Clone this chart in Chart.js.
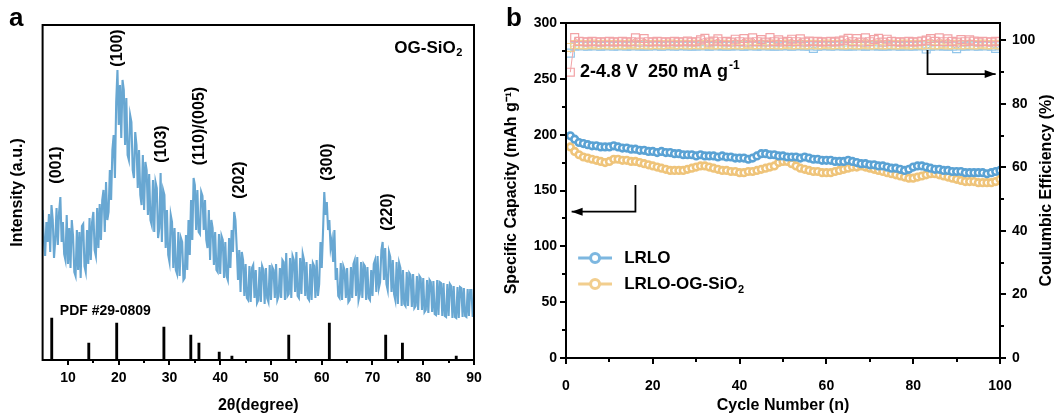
<!DOCTYPE html>
<html><head><meta charset="utf-8">
<script src="https://cdn.jsdelivr.net/npm/chart.js@4.4.1/dist/chart.umd.min.js"></script>
<style>
html,body{margin:0;padding:0;background:#fff;}
#wrap{position:relative;width:1054px;height:417px;overflow:hidden;}
#ca{position:absolute;left:0;top:0;}
#cb{position:absolute;left:500px;top:0;}
</style></head><body>
<div id="wrap">
<canvas id="ca" width="500" height="417"></canvas>
<canvas id="cb" width="554" height="417"></canvas>
</div>
<script>
// ---------------- Panel a : XRD ----------------
const xrdStart = 5, xrdStep = 0.25;
const xrdIntensity = [
150,120,104,138, 118,146,108,155, 140,102,120,152, 115,148,163,118, 138,106,100,145,
96,132,92,140, 124,88,84,130, 90,128,82,134, 136,94,88,130, 96,142,100,138,
148,110,104,152, 112,156,120,160, 170,128,178,140, 148,190,160,210, 225,182,258,290,
235,275,222,280, 270,215,262,205, 200,245,238,190, 182,228,215,172, 210,165,155,205,
150,198,190,145, 186,140,135,180, 128,178,172,122, 132,187,118,170, 165,112,150,105,
98,145,138,92, 132,90,86,128, 84,122,118,80, 82,125,90,140, 105,160,120,182,
175,130,170,128, 126,168,164,130, 160,120,112,150, 100,140,132,95, 128,90,88,126,
86,124,120,82, 118,84,80,122, 92,130,108,148, 140,112,80,110, 68,108,100,64,
96,62,60,94, 58,92,95,62, 90,57,60,93, 58,94,90,56, 92,62,58,95,
60,93,90,62, 96,60,64,92, 62,100,98,60, 107,64,66,102, 62,104,100,68,
108,64,62,102, 66,106,100,64, 98,62,60,96, 60,97,94,62, 100,64,76,118,
92,128,168,145, 158,130,140,112, 120,98,130,80, 92,64,62,97, 60,94,90,62,
92,58,60,93, 62,96,100,64, 103,60,66,98, 62,96,94,60, 93,62,60,90,
64,96,100,68, 104,72,78,110, 118,80,112,76, 70,108,103,68, 100,66,60,98,
56,97,92,54, 90,56,54,88, 54,87,85,53, 86,52,54,84, 50,84,82,50,
82,48,50,80, 47,80,78,48, 79,46,45,80, 45,78,77,44, 77,44,43,76,
44,76,74,42, 74,43,42,73, 42,73,72,43, 72,44,43,71, 44,70,70,43,
58
];
const pdfPositions = [6.8, 14.1, 19.6, 28.9, 34.2, 35.8, 39.8, 42.3, 53.5, 61.5, 72.6, 75.9, 86.5];
const pdfHeights   = [42, 17, 37, 33, 25, 17, 8, 4, 25, 37, 25, 17, 4];
const peakLabels = ['(001)', '(100)', '(103)', '(110)/(005)', '(202)', '(300)', '(220)'];
const peakLabelX = [7.8, 19.7, 28.5, 36.0, 43.9, 61.2, 72.9];
const peakLabelY = [195, 312, 216, 234, 180, 198, 148];
const xrdTicks = [10, 20, 30, 40, 50, 60, 70, 80, 90];
const xrdMinorTicks = [15, 25, 35, 45, 55, 65, 75, 85];
const xrdSampleName = 'OG-SiO2';
const pdfCardName = 'PDF #29-0809';

// ---------------- Panel b : cycling ----------------
const cycles = [];
for (let i = 1; i <= 100; i++) cycles.push(i);
const seriesNames = ['LRLO', 'LRLO-OG-SiO2'];
const capLRLO = [
199,196,193,192,191,190,190,189,189,189,
190,189,188,188,187,187,186,186,185,185,
184,185,184,184,183,183,182,182,182,181,
182,181,181,181,180,181,180,180,179,179,
179,178,179,181,183,183,182,182,181,181,
180,180,180,179,180,179,178,178,177,177,
177,176,176,176,177,176,175,174,174,173,
173,172,172,171,170,170,169,168,169,171,
172,172,171,170,169,169,168,168,167,167,
167,166,166,166,166,166,165,166,167,168
];
const capOG = [
189,185,182,180,179,178,177,176,175,176,
178,178,177,177,176,176,175,174,173,172,
171,170,169,168,168,168,168,169,170,171,
172,172,171,170,169,168,168,167,167,166,
166,167,167,168,169,170,171,172,175,176,
176,174,172,170,169,168,167,167,166,166,
166,167,168,169,170,171,171,172,171,170,
169,168,167,166,165,164,163,162,161,161,
162,163,164,165,165,164,163,162,161,160,
159,158,158,158,157,157,157,157,158,160
];
const cePink = [
90.0,100.9,99.7,99.6,99.5,99.7,99.6,99.5,99.6,99.7,
99.5,99.6,99.7,99.5,99.6,100.8,99.5,100.6,99.6,99.5,
99.7,99.6,99.5,99.6,99.7,99.5,99.6,99.8,99.5,99.6,
100.2,100.7,99.5,99.8,100.5,99.6,99.7,99.5,100.4,99.6,
100.6,99.5,100.8,99.6,100.3,99.5,100.9,99.6,100.2,99.5,
99.7,100.4,99.6,100.5,99.5,99.8,99.6,99.7,99.5,99.6,
99.7,99.5,99.8,100.1,100.7,99.6,100.6,99.5,100.8,99.6,
100.3,100.7,99.5,100.4,99.7,99.6,99.5,99.6,99.7,99.5,
99.6,99.8,100.1,100.6,99.7,100.8,99.6,100.5,99.7,99.5,
100.3,99.6,100.2,99.8,99.5,99.7,99.6,99.5,99.7,99.6
];
const ceBlue = [
96.0,98.2,98.4,98.3,98.2,98.4,98.3,98.2,98.3,98.4,
98.2,98.3,98.4,98.2,98.3,98.4,98.2,98.3,98.2,98.4,
98.3,98.2,98.3,98.4,98.2,98.3,98.4,98.2,98.3,98.2,
98.4,98.3,98.2,98.3,98.4,98.2,98.3,98.2,98.4,98.3,
98.2,98.3,98.4,98.2,98.3,98.4,98.2,98.3,98.2,98.4,
98.3,98.2,98.3,98.4,98.2,98.3,97.5,98.2,98.3,98.4,
98.2,98.3,98.4,98.2,98.3,98.2,98.4,98.3,98.2,98.3,
98.4,98.2,98.3,98.2,98.4,98.3,98.2,98.3,98.3,98.2,
98.4,98.3,97.3,98.2,98.3,98.4,98.2,98.3,98.2,97.4,
98.3,98.2,98.4,98.3,98.2,98.4,98.3,98.2,97.5,98.3
];
const ceYellow = [
97.8,98.7,98.8,98.6,98.7,98.9,98.6,98.7,98.8,98.6,
98.7,98.8,98.6,98.7,98.9,98.6,98.7,98.8,98.6,98.7,
98.8,98.6,98.7,98.9,98.6,98.7,98.8,98.6,98.7,98.8,
98.6,98.7,98.9,98.6,98.7,98.8,98.6,98.7,98.8,98.6,
98.7,98.9,98.6,98.7,98.8,98.6,98.7,98.8,98.6,98.7,
98.9,98.6,98.7,98.8,98.6,98.7,98.8,98.6,98.7,98.9,
98.6,98.7,98.8,98.6,98.7,98.8,98.6,98.7,98.9,98.6,
98.7,98.8,98.6,98.7,98.8,98.6,98.7,98.9,98.6,98.7,
98.8,98.6,98.7,98.8,98.6,98.7,98.9,98.6,98.7,98.8,
98.6,98.7,98.8,98.6,98.7,98.9,98.6,98.7,98.8,98.6
];
const cycleTicks = [0, 20, 40, 60, 80, 100];
const cycleMinorTicks = [10, 30, 50, 70, 90];
const capTicks = [0, 50, 100, 150, 200, 250, 300];
const capMinorTicks = [25, 75, 125, 175, 225, 275];
const ceTicks = [0, 20, 40, 60, 80, 100];
const ceMinorTicks = [10, 30, 50, 70, 90];
const conditionText = '2-4.8 V  250 mA g';
const conditionSup = '-1';

// ---------------- styles ----------------
const FONT = '"Liberation Sans", Arial, sans-serif';
const XRD_COLOR = '#68A7D2';
const BLUE = '#5AA2D4';
const YELLOW = '#EFC47A';
Chart.defaults.font.family = FONT;
Chart.defaults.font.weight = 'bold';
Chart.defaults.color = '#000';

function drawChem(ctx, text, x, y, size, align) {
  let main = text, sub = '';
  if (/O2$/.test(text)) { main = text.slice(0, -1); sub = '2'; }
  ctx.font = `bold ${size}px ${FONT}`;
  const w1 = ctx.measureText(main).width;
  const ss = Math.round(size * 0.65);
  ctx.font = `bold ${ss}px ${FONT}`;
  const w2 = sub ? ctx.measureText(sub).width : 0;
  const x0 = align === 'right' ? x - w1 - w2 : x;
  ctx.textAlign = 'left'; ctx.textBaseline = 'middle';
  ctx.font = `bold ${size}px ${FONT}`;
  ctx.fillText(main, x0, y);
  if (sub) { ctx.font = `bold ${ss}px ${FONT}`; ctx.fillText(sub, x0 + w1 + 0.5, y + size * 0.32); }
}

const framePlugin = {
  id: 'frame',
  afterDatasetsDraw(chart, args, opts) {
    const ctx = chart.ctx, a = chart.chartArea;
    ctx.save();
    ctx.strokeStyle = '#000'; ctx.lineWidth = 2;
    ctx.strokeRect(a.left, a.top, a.right - a.left, a.bottom - a.top);
    (opts.ticks || []).forEach(t => {
      const s = chart.scales[t.axis];
      t.values.forEach(v => {
        const p = Math.round(s.getPixelForValue(v));
        ctx.beginPath();
        if (s.isHorizontal()) { ctx.moveTo(p, a.bottom); ctx.lineTo(p, a.bottom + t.len); }
        else if (s.position === 'left') { ctx.moveTo(a.left, p); ctx.lineTo(a.left - t.len, p); }
        else { ctx.moveTo(a.right, p); ctx.lineTo(a.right + t.len, p); }
        ctx.stroke();
      });
    });
    ctx.restore();
  }
};

const xrdTextPlugin = {
  id: 'xrdText',
  afterDraw(chart) {
    const {ctx} = chart; const x = chart.scales.x, y = chart.scales.y;
    ctx.save(); ctx.fillStyle = '#000';
    ctx.font = `bold 16px ${FONT}`; ctx.textAlign = 'center'; ctx.textBaseline = 'middle';
    peakLabels.forEach((t, i) => {
      ctx.save();
      ctx.translate(x.getPixelForValue(peakLabelX[i]), y.getPixelForValue(peakLabelY[i]));
      ctx.rotate(-Math.PI / 2);
      ctx.fillText(t, 0, 0);
      ctx.restore();
    });
    ctx.font = `bold 14px ${FONT}`; ctx.textAlign = 'left';
    ctx.fillText(pdfCardName, x.getPixelForValue(8.4), y.getPixelForValue(49));
    drawChem(ctx, xrdSampleName, x.getPixelForValue(87.6), y.getPixelForValue(312), 17, 'right');
    ctx.font = `bold 26px ${FONT}`; ctx.textAlign = 'left'; ctx.textBaseline = 'middle';
    ctx.fillText('a', 9, 19);
    ctx.restore();
  }
};

new Chart(document.getElementById('ca'), {
  type: 'line',
  data: { datasets: [
    { type: 'line', label: xrdSampleName, data: xrdIntensity.map((v, i) => ({x: xrdStart + i * xrdStep, y: v})),
      borderColor: XRD_COLOR, borderWidth: 2.1, pointRadius: 0, tension: 0, fill: false },
    { type: 'bar', label: pdfCardName, data: pdfPositions.map((p, i) => ({x: p, y: pdfHeights[i]})),
      backgroundColor: '#000', barThickness: 2.2, borderWidth: 0 }
  ]},
  options: {
    responsive: false, animation: false, devicePixelRatio: 1,
    layout: {padding: {top: 25, right: 26, left: 0, bottom: 0}},
    plugins: {legend: {display: false}, tooltip: {enabled: false},
      frame: {ticks: [{axis: 'x', values: xrdTicks, len: 5}, {axis: 'x', values: xrdMinorTicks, len: 3}]}},
    scales: {
      x: {type: 'linear', min: 5, max: 90, offset: false,
        grid: {display: false, drawTicks: false}, border: {display: false},
        afterBuildTicks: s => { s.ticks = xrdTicks.map(v => ({value: v})); },
        afterFit: s => { s.height = 57; },
        ticks: {font: {size: 14, weight: 'bold'}, color: '#000', padding: 10, maxRotation: 0, autoSkip: false},
        title: {display: true, text: '2θ(degree)', font: {size: 16, weight: 'bold'}, color: '#000', padding: {top: 0, bottom: 2}}},
      y: {min: 0, max: 335, grid: {display: false, drawTicks: false}, border: {display: false}, ticks: {display: false},
        afterFit: s => { s.width = 42.6; },
        title: {display: true, text: 'Intensity (a.u.)', font: {size: 16, weight: 'bold'}, color: '#000', padding: {top: 8, bottom: 0}}}
    }
  },
  plugins: [framePlugin, xrdTextPlugin]
});

// ---------------- Panel b chart ----------------
function arrow(ctx, pts) {
  ctx.beginPath(); ctx.moveTo(pts[0][0], pts[0][1]);
  for (let i = 1; i < pts.length; i++) ctx.lineTo(pts[i][0], pts[i][1]);
  ctx.stroke();
  const [x1, y1] = pts[pts.length - 2], [x2, y2] = pts[pts.length - 1];
  const ang = Math.atan2(y2 - y1, x2 - x1), L = 11, W = 4;
  ctx.beginPath();
  ctx.moveTo(x2, y2);
  ctx.lineTo(x2 - L * Math.cos(ang) + W * Math.sin(ang), y2 - L * Math.sin(ang) - W * Math.cos(ang));
  ctx.lineTo(x2 - L * Math.cos(ang) - W * Math.sin(ang), y2 - L * Math.sin(ang) + W * Math.cos(ang));
  ctx.closePath(); ctx.fill();
}

const cycTextPlugin = {
  id: 'cycText',
  afterDraw(chart) {
    const {ctx} = chart; const x = chart.scales.x, y = chart.scales.y, y2 = chart.scales.y2;
    ctx.save(); ctx.fillStyle = '#000'; ctx.strokeStyle = '#000'; ctx.lineWidth = 1.8;
    arrow(ctx, [[x.getPixelForValue(16), y.getPixelForValue(155)], [x.getPixelForValue(16), y.getPixelForValue(131)], [x.getPixelForValue(1.3), y.getPixelForValue(131)]]);
    arrow(ctx, [[x.getPixelForValue(83.3), y2.getPixelForValue(97)], [x.getPixelForValue(83.3), y2.getPixelForValue(89.4)], [x.getPixelForValue(99), y2.getPixelForValue(89.4)]]);
    const tx = x.getPixelForValue(3.2), ty = y2.getPixelForValue(90);
    ctx.font = `bold 18px ${FONT}`; ctx.textAlign = 'left'; ctx.textBaseline = 'middle';
    ctx.fillText(conditionText, tx, ty);
    const w = ctx.measureText(conditionText).width;
    ctx.font = `bold 12px ${FONT}`;
    ctx.fillText(conditionSup, tx + w + 1, ty - 7);
    const legY = [y.getPixelForValue(89.5), y.getPixelForValue(66.2)];
    const cols = ['#7DB7E0', '#F2CE8E'];
    const lx0 = x.getPixelForValue(2.8), lx1 = x.getPixelForValue(10.6), lc = x.getPixelForValue(6.7), ltx = x.getPixelForValue(13.4);
    seriesNames.forEach((n, i) => {
      ctx.strokeStyle = cols[i]; ctx.lineWidth = 3;
      ctx.beginPath(); ctx.moveTo(lx0, legY[i]); ctx.lineTo(lx1, legY[i]); ctx.stroke();
      ctx.fillStyle = '#fff'; ctx.lineWidth = 3;
      ctx.beginPath(); ctx.arc(lc, legY[i], 4.5, 0, Math.PI * 2); ctx.fill(); ctx.stroke();
      ctx.fillStyle = '#000';
      drawChem(ctx, n, ltx, legY[i], 17, 'left');
    });
    ctx.save();
    ctx.translate(547, (chart.chartArea.top + chart.chartArea.bottom) / 2);
    ctx.rotate(-Math.PI / 2);
    ctx.font = `bold 16px ${FONT}`; ctx.textAlign = 'center'; ctx.textBaseline = 'middle';
    ctx.fillText('Coulumbic Efficiency (%)', 0, 0);
    ctx.restore();
    ctx.font = `bold 26px ${FONT}`; ctx.textAlign = 'left'; ctx.textBaseline = 'middle';
    ctx.fillText('b', 6, 19);
    ctx.restore();
  }
};

const capStyle = (c) => ({borderColor: c, backgroundColor: '#ffffff', pointBackgroundColor: '#ffffff', pointBorderColor: c,
  pointRadius: 3.3, pointBorderWidth: 2.6, borderWidth: 2.5, tension: 0, fill: false, yAxisID: 'y'});
const ceStyle = (c) => ({borderColor: c, backgroundColor: 'rgba(0,0,0,0)', pointBorderColor: c, pointBackgroundColor: 'rgba(255,255,255,0)',
  pointStyle: 'rect', pointRadius: 5.6, pointBorderWidth: 1.2, borderWidth: 1, tension: 0, fill: false, yAxisID: 'y2'});

new Chart(document.getElementById('cb'), {
  type: 'line',
  data: { datasets: [
    Object.assign({label: seriesNames[0], data: cycles.map((c, i) => ({x: c, y: capLRLO[i]}))}, capStyle(BLUE)),
    Object.assign({label: seriesNames[1], data: cycles.map((c, i) => ({x: c, y: capOG[i]}))}, capStyle(YELLOW)),
    Object.assign({label: 'CE pink', data: cycles.map((c, i) => ({x: c, y: cePink[i]}))}, ceStyle('#F2A3A6')),
    Object.assign({label: 'CE yellow', data: cycles.map((c, i) => ({x: c, y: ceYellow[i]}))}, ceStyle('#F3D190')),
    Object.assign({label: 'CE blue', data: cycles.map((c, i) => ({x: c, y: ceBlue[i]}))}, ceStyle('#92C6EA'))
  ]},
  options: {
    responsive: false, animation: false, devicePixelRatio: 1,
    layout: {padding: {top: 23, right: 0, left: 0, bottom: 0}},
    plugins: {legend: {display: false}, tooltip: {enabled: false},
      frame: {ticks: [
        {axis: 'x', values: cycleTicks, len: 6}, {axis: 'x', values: cycleMinorTicks, len: 4},
        {axis: 'y', values: capTicks, len: 6}, {axis: 'y', values: capMinorTicks, len: 4},
        {axis: 'y2', values: ceTicks, len: 6}, {axis: 'y2', values: ceMinorTicks, len: 4}]}},
    scales: {
      x: {type: 'linear', min: 0, max: 100, offset: false,
        grid: {display: false, drawTicks: false}, border: {display: false},
        afterBuildTicks: s => { s.ticks = cycleTicks.map(v => ({value: v})); },
        afterFit: s => { s.height = 59; },
        ticks: {font: {size: 14, weight: 'bold'}, color: '#000', padding: 20, maxRotation: 0, autoSkip: false},
        title: {display: true, text: 'Cycle Number (n)', font: {size: 16, weight: 'bold'}, color: '#000', padding: {top: 0, bottom: 2}}},
      y: {position: 'left', min: 0, max: 300, grid: {display: false, drawTicks: false}, border: {display: false},
        afterBuildTicks: s => { s.ticks = capTicks.map(v => ({value: v})); },
        afterFit: s => { s.width = 66; },
        ticks: {font: {size: 14, weight: 'bold'}, color: '#000', padding: 9},
        title: {display: true, text: 'Specific Capacity (mAh g⁻¹)', font: {size: 16, weight: 'bold'}, color: '#000', padding: {top: 2, bottom: 0}}},
      y2: {position: 'right', min: 0, max: 105.5, grid: {display: false, drawTicks: false}, border: {display: false},
        afterBuildTicks: s => { s.ticks = ceTicks.map(v => ({value: v})); },
        afterFit: s => { s.width = 54; },
        ticks: {font: {size: 14, weight: 'bold'}, color: '#000', padding: 12},
        title: {display: false}}
    }
  },
  plugins: [framePlugin, cycTextPlugin]
});
</script>
</body></html>
